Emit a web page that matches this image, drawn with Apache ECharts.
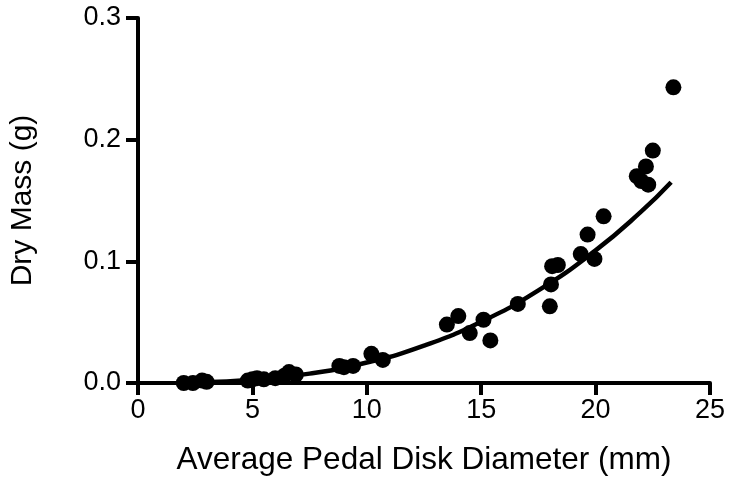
<!DOCTYPE html>
<html>
<head>
<meta charset="utf-8">
<script src="https://cdn.jsdelivr.net/npm/echarts@6/dist/echarts.min.js"></script>
<style>html,body{margin:0;padding:0;background:#fff;}#c{width:729px;height:481px;}</style>
</head>
<body>
<div id="c"></div>
<script>
// Observed data: pedal disk diameter (mm) vs dry mass (g)
var diameters = [2.0, 2.4, 2.8, 3.0, 4.8, 5.0, 5.2, 5.5, 6.0, 6.4, 6.6, 6.9, 8.8, 9.0, 9.4, 10.2, 10.7,
                 13.5, 14.0, 14.5, 15.1, 15.4, 16.6, 18.0, 18.05, 18.1, 18.35, 19.35, 19.65, 19.95,
                 20.35, 21.8, 22.0, 22.2, 22.3, 22.5, 23.4];
var dryMass = [0.000, 0.000, 0.002, 0.001, 0.002, 0.003, 0.004, 0.003, 0.004, 0.006, 0.009, 0.007, 0.014, 0.013, 0.014, 0.024, 0.019,
               0.048, 0.055, 0.041, 0.052, 0.035, 0.065, 0.063, 0.081, 0.096, 0.097, 0.106, 0.122, 0.102,
               0.137, 0.170, 0.166, 0.178, 0.163, 0.191, 0.243];
// Fitted curve
var fitX = [2.0, 2.5, 5.0, 7.5, 10.0, 12.5, 15.0, 17.5, 20.0, 22.0, 23.3];
var fitY = [0.0003, 0.0004, 0.0026, 0.0077, 0.0168, 0.0307, 0.0503, 0.0761, 0.109, 0.141, 0.165];
var xTicks = [0, 5, 10, 15, 20, 25];
var yTicks = [0.0, 0.1, 0.2, 0.3];

var pts = diameters.map(function (d, i) { return [d, dryMass[i]]; });
var fit = fitX.map(function (d, i) { return [d, fitY[i]]; });
var font = 'Liberation Sans, Arial, sans-serif';

var chart = echarts.init(document.getElementById('c'), null, {renderer: 'canvas'});
chart.setOption({
  animation: false,
  backgroundColor: '#fff',
  grid: {left: 135, right: 19, top: 18, bottom: 97, containLabel: false},
  xAxis: {
    type: 'value', min: xTicks[0], max: xTicks[xTicks.length - 1], interval: 5,
    name: 'Average Pedal Disk Diameter (mm)', nameLocation: 'middle', nameGap: 61,
    nameTextStyle: {color: '#000', fontSize: 31.5, fontFamily: font},
    axisLine: {show: true, onZero: false, lineStyle: {color: '#000', width: 4}},
    axisTick: {show: true, inside: false, length: 12, lineStyle: {color: '#000', width: 4}},
    axisLabel: {color: '#000', fontSize: 27, fontFamily: font, margin: 14},
    splitLine: {show: false}
  },
  yAxis: {
    type: 'value', min: yTicks[0], max: yTicks[yTicks.length - 1], interval: 0.1,
    name: 'Dry Mass (g)', nameLocation: 'middle', nameGap: 100, nameRotate: 90,
    nameTextStyle: {color: '#000', fontSize: 30, fontFamily: font},
    axisLine: {show: true, onZero: false, lineStyle: {color: '#000', width: 4}},
    axisTick: {show: true, inside: false, length: 12, lineStyle: {color: '#000', width: 4}},
    axisLabel: {color: '#000', fontSize: 27, fontFamily: font, margin: 17,
      formatter: function (v) { return v.toFixed(1); }},
    splitLine: {show: false}
  },
  series: [
    {type: 'line', data: fit, smooth: true, symbol: 'none', lineStyle: {color: '#000', width: 4.5}, z: 2},
    {type: 'scatter', data: pts, symbol: 'circle', symbolSize: 16, itemStyle: {color: '#000', opacity: 1}, z: 3}
  ]
});
</script>
</body>
</html>
